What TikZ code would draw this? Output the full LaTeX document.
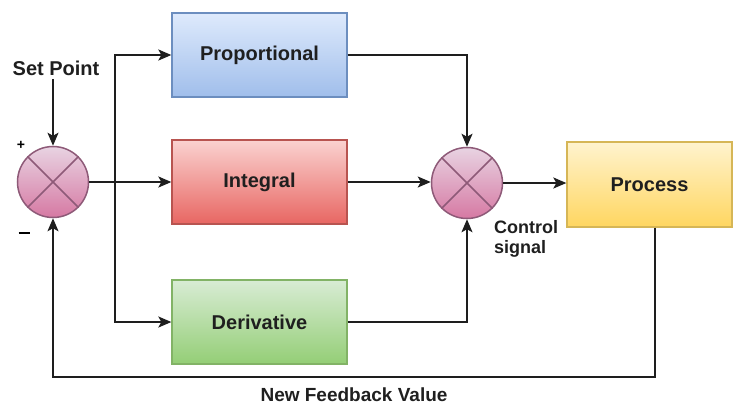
\documentclass[tikz,border=0pt]{standalone}
\usepackage{fontspec}
\setmainfont{Liberation Sans}
\usetikzlibrary{arrows.meta}
\definecolor{linec}{HTML}{1E1E1E}
\begin{document}
\begin{tikzpicture}[x=1pt,y=-1pt,
  blk/.style={rectangle, minimum width=175pt, minimum height=84pt, line width=1.3pt,
    font=\fontsize{20}{22}\selectfont\bfseries, text=black!88},
  sumc/.style={circle, minimum size=71pt, inner sep=0pt, line width=1.5pt,
    draw=sumd, top color=sumt, bottom color=sumb},
  arr/.style={line width=1.8pt, draw=linec, -{Stealth[length=13pt,width=11pt,inset=3pt]}},
  lbl/.style={font=\fontsize{18}{20}\selectfont\bfseries, text=black!88}
]
\definecolor{sumt}{HTML}{E8D3E2}
\definecolor{sumb}{HTML}{D679A3}
\definecolor{sumd}{HTML}{8E5A78}
\useasboundingbox (0,0) rectangle (734,407);

\node[blk, draw={rgb,255:red,108;green,142;blue,191}, top color={rgb,255:red,222;green,234;blue,252}, bottom color={rgb,255:red,160;green,190;blue,235}] (prop) at (259.5,55) {Proportional};
\node[blk, draw={rgb,255:red,184;green,84;blue,80}, top color={rgb,255:red,250;green,210;blue,208}, bottom color={rgb,255:red,232;green,102;blue,98}] (integ) at (259.5,182) {Integral};
\node[blk, draw={rgb,255:red,130;green,179;blue,102}, top color={rgb,255:red,216;green,236;blue,212}, bottom color={rgb,255:red,148;green,206;blue,118}] (deriv) at (259.5,322) {Derivative};
\node[blk, minimum width=165pt, minimum height=85pt, draw={rgb,255:red,214;green,182;blue,86}, top color={rgb,255:red,255;green,243;blue,206}, bottom color={rgb,255:red,255;green,214;blue,96}] (proc) at (649.5,184.5) {Process};

\node[sumc] (c1) at (53,182) {};
\node[sumc] (c2) at (467,183) {};
\foreach \c in {c1,c2}{
  \draw[line width=1.5pt, draw=sumd] (\c.north west) -- (\c.south east);
  \draw[line width=1.5pt, draw=sumd] (\c.north east) -- (\c.south west);
}

\node[lbl, font=\fontsize{20}{22}\selectfont\bfseries] (sp) at (56,68) {Set Point};
\node[font=\fontsize{14}{16}\selectfont\bfseries] (plus) at (21,145) {+};
\node[inner sep=0pt] (minus) at (24,233) {\rule{11pt}{1.8pt}};
\node[lbl, anchor=north west, align=left, inner sep=0pt] (cs) at (494,220) {Control\\signal};
\node[lbl, font=\fontsize{19}{22}\selectfont\bfseries] (fbv) at (354,395) {New Feedback Value};

\coordinate (br) at (115,182);
\coordinate (fb) at (655,377);

\draw[arr] (sp.south -| c1.north) -- (c1.north);
\draw[arr] (c1.east) -- (integ.west);
\draw[arr] (br) |- (prop.west);
\draw[arr] (br) |- (deriv.west);
\draw[arr] (prop.east) -| (c2.north);
\draw[arr] (integ.east) -- (integ.east -| c2.west);
\draw[arr] (deriv.east) -| (c2.south);
\draw[arr] (c2.east) -- (c2.east -| proc.west);
\draw[arr] (proc.south -| fb) -- (fb) -| (c1.south);
\end{tikzpicture}
\end{document}
